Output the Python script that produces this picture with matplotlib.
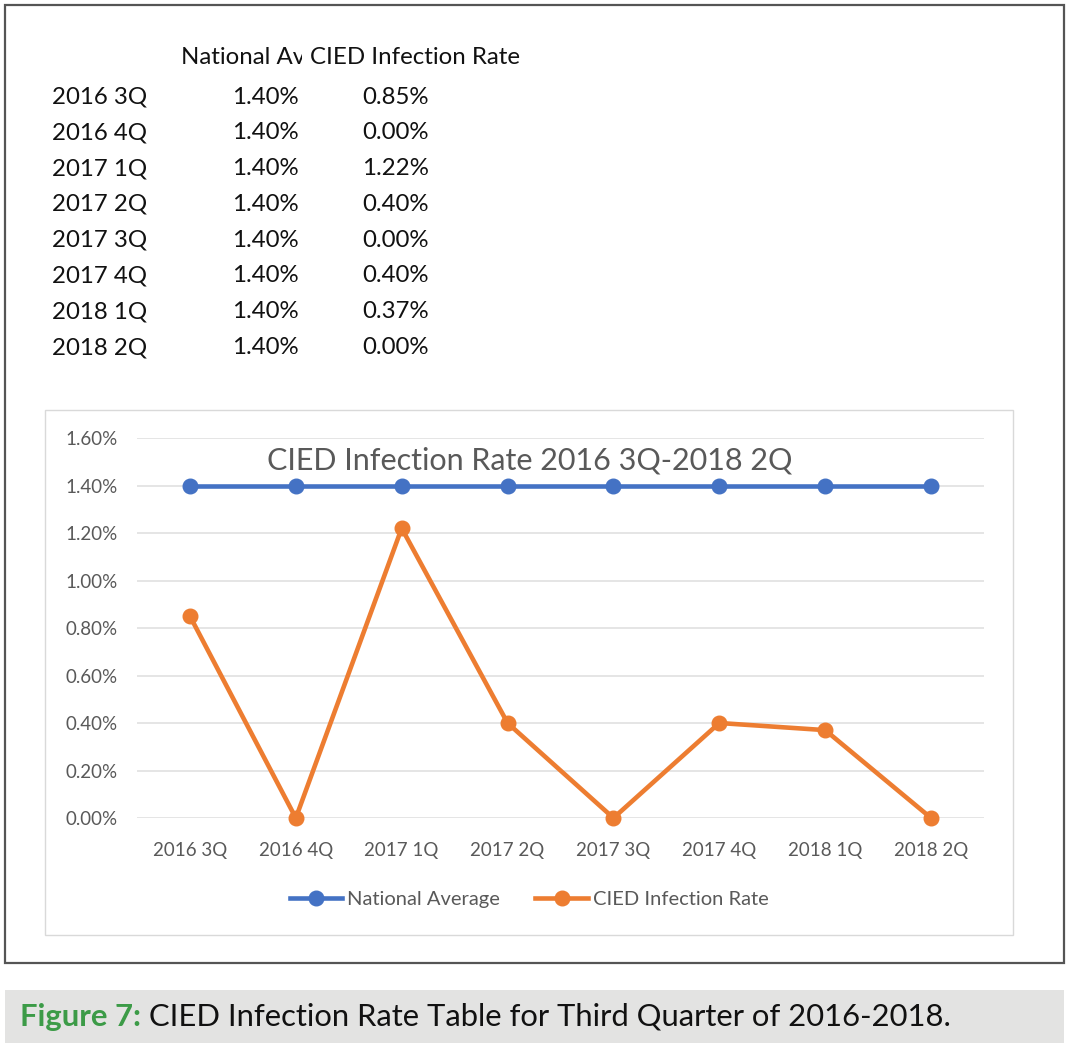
import matplotlib.pyplot as plt
from matplotlib.patches import Rectangle
from matplotlib.transforms import Bbox, TransformedBbox
from matplotlib.ticker import FuncFormatter

quarters = ['2016 3Q', '2016 4Q', '2017 1Q', '2017 2Q', '2017 3Q', '2017 4Q', '2018 1Q', '2018 2Q']
national_avg = [0.014, 0.014, 0.014, 0.014, 0.014, 0.014, 0.014, 0.014]
cied_rate = [0.0085, 0.0, 0.0122, 0.0040, 0.0, 0.0040, 0.0037, 0.0]

W, H = 1072, 1052
blue = '#4472C4'
orange = '#ED7D31'
gray_txt = '#595959'
font = ['Lato', 'DejaVu Sans']
plt.rcParams['font.family'] = font

fig = plt.figure(figsize=(W / 100, H / 100), dpi=100)

# background axes in pixel coordinates for boxes, table and caption
bg = fig.add_axes([0, 0, 1, 1])
bg.set_xlim(0, W)
bg.set_ylim(H, 0)
bg.axis('off')

bg.add_patch(Rectangle((5, 5), 1059, 958, fill=False, ec='#555555', lw=1.6))
bg.add_patch(Rectangle((45, 410), 968, 525, fill=False, ec='#d9d9d9', lw=1))
bg.add_patch(Rectangle((5, 990), 1059, 53, fc='#e3e3e2', ec='none'))

# table
tfs = 17.3
hdr = bg.text(181, 57, 'National Average', fontsize=tfs, va='center', ha='left', color='#111111')
# header is cut off by the next column, like in the spreadsheet
hdr.set_clip_box(TransformedBbox(Bbox([[170, 30], [302, 80]]), bg.transData))
hdr.set_clip_on(True)
bg.text(310, 57, 'CIED Infection Rate', fontsize=tfs, va='center', ha='left', color='#111111')
for i, q in enumerate(quarters):
    y = 97 + i * 35.8
    bg.text(52, y, q, fontsize=tfs, va='center', ha='left', color='#111111')
    bg.text(299, y, f'{national_avg[i] * 100:.2f}%', fontsize=tfs, va='center', ha='right', color='#111111')
    bg.text(429, y, f'{cied_rate[i] * 100:.2f}%', fontsize=tfs, va='center', ha='right', color='#111111')

# chart
ax = fig.add_axes([137 / W, 1 - 818 / H, 847 / W, 380 / H])
x = range(len(quarters))
ax.plot(x, national_avg, color=blue, lw=3.3, marker='o', ms=10.5, label='National Average')
ax.plot(x, cied_rate, color=orange, lw=3.3, marker='o', ms=10.5, label='CIED Infection Rate')
ax.set_xlim(-0.5, len(quarters) - 0.5)
ax.set_ylim(0, 0.016)
ax.set_yticks([i * 0.002 for i in range(9)])
ax.yaxis.set_major_formatter(FuncFormatter(lambda v, p: f'{v * 100:.2f}%'))
ax.set_xticks(list(x))
ax.set_xticklabels(quarters)
ax.grid(axis='y', color='#e0e0e0', lw=1.2)
ax.set_axisbelow(True)
for s in ax.spines.values():
    s.set_visible(False)
ax.tick_params(length=0, labelsize=13.5, labelcolor=gray_txt)
ax.tick_params(axis='y', pad=14)
ax.tick_params(axis='x', pad=17)
for line in ax.get_lines():
    line.set_clip_on(False)
ax.set_title('CIED Infection Rate 2016 3Q-2018 2Q', fontsize=22, color=gray_txt, x=0.464, y=0.895)
ax.legend(loc='upper center', bbox_to_anchor=(0.463, -0.143), ncol=2, frameon=False,
          fontsize=14.5, labelcolor=gray_txt, handlelength=2.6, handletextpad=0.25, columnspacing=1.75)

# caption
cap_font = ['Lato', 'DejaVu Sans']
t1 = bg.text(20, 1017, 'Figure 7:', fontsize=22.3, fontweight='bold', color='#3c9b47',
             va='center', ha='left', family=cap_font)
bg.annotate(' CIED Infection Rate Table for Third Quarter of 2016-2018.', xy=(1, 0.5),
            xycoords=t1, va='center', ha='left', fontsize=22.3, color='#111111', family=cap_font)

fig.savefig('out.png', dpi=100)
